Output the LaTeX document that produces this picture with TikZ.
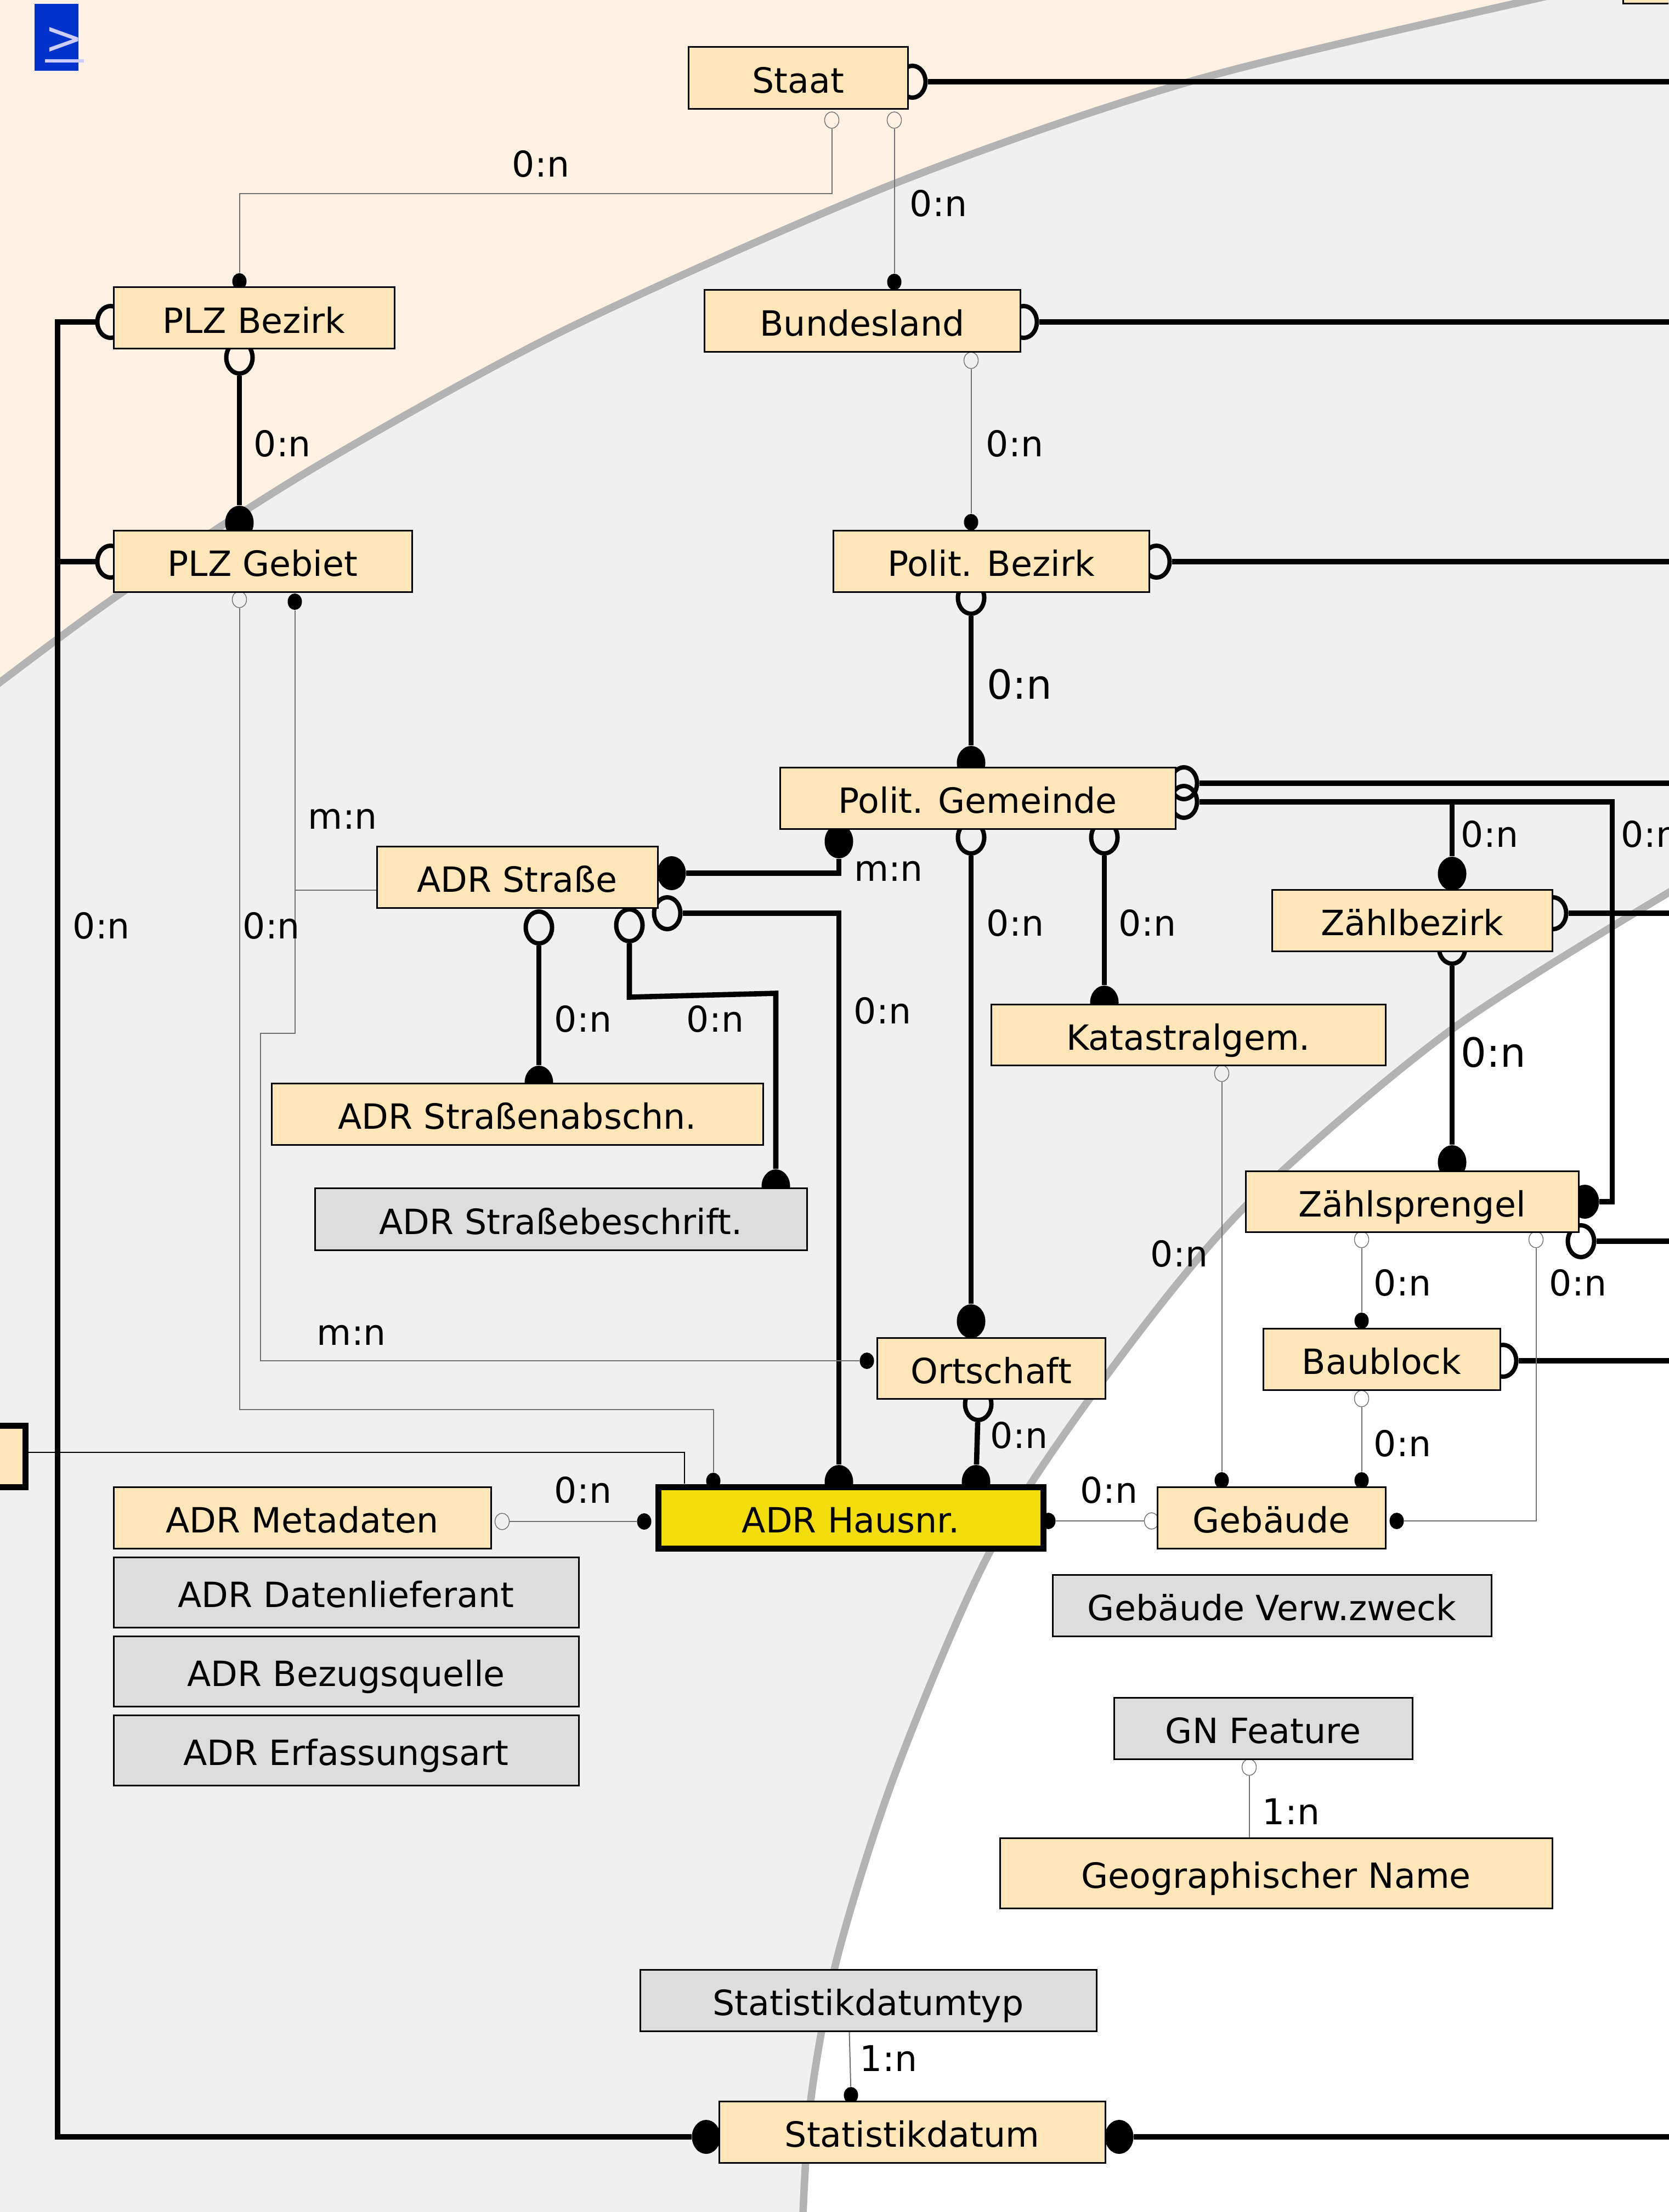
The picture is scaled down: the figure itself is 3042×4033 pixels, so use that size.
\documentclass[tikz,border=0pt]{standalone}
\usepackage{fontspec}
\setmainfont{DejaVu Sans}
\usetikzlibrary{shapes.geometric}
\definecolor{beigebg}{HTML}{FFF2E5}
\definecolor{greybg}{HTML}{F0F0F0}
\definecolor{arcgrey}{HTML}{B3B3B3}
\definecolor{entfill}{HTML}{FFE6B8}
\definecolor{codefill}{HTML}{DDDDDD}
\definecolor{mainfill}{HTML}{F2DD0A}
\definecolor{thingrey}{HTML}{707070}
\definecolor{navblue}{HTML}{0033CC}
\definecolor{navtext}{HTML}{CCCCFF}
\pgfdeclarelayer{bglayer}
\pgfdeclarelayer{connlayer}
\pgfdeclarelayer{marklayer}
\pgfsetlayers{bglayer,connlayer,marklayer,main}
\tikzset{
  entbox/.style={rectangle,draw=black,line width=0.75pt,fill=entfill,inner sep=0pt,outer sep=0pt,font=\fontsize{15.85pt}{18pt}\selectfont,text height=15.6pt,text depth=1.85pt},
  codebox/.style={entbox,fill=codefill},
  mainbox/.style={entbox,fill=mainfill,line width=2.75pt},
  bigopen/.style={ellipse,draw=black,line width=2pt,fill=none,inner sep=0pt,minimum width=12pt,minimum height=14.5pt},
  bigdot/.style={ellipse,fill=black,inner sep=0pt,minimum width=13pt,minimum height=15.5pt},
  smallopen/.style={ellipse,draw=thingrey,line width=0.35pt,fill=none,inner sep=0pt,minimum width=6.5pt,minimum height=7.5pt},
  smalldot/.style={ellipse,fill=black,inner sep=0pt,minimum width=6.5pt,minimum height=7.5pt},
  thickline/.style={draw=black,line width=2.4pt,line join=miter},
  thinline/.style={draw=thingrey,line width=0.5pt},
  card/.style={inner sep=0pt,font=\fontsize{16.2pt}{18pt}\selectfont,text height=14pt,text depth=3pt},
  cardbig/.style={card,font=\fontsize{18.4pt}{20pt}\selectfont},
  arcline/.style={draw=arcgrey,line width=3.4pt}
}
\newcommand\ent[6]{%
  \node[#1,minimum width={(#4-#2)*0.25pt},minimum height={(#5-#3)*0.25pt}] (#6) at ({(#2+#4)/2},{(#3+#5)/2})}
\newcommand\mk[4]{\begin{pgfonlayer}{marklayer}\node[#1] (#2) at (#3+1.5,#4) {};\end{pgfonlayer}}
\begin{document}
\begin{tikzpicture}[x=0.25pt,y=-0.25pt]
\useasboundingbox (0,0) rectangle (3042,4033);
\clip (0,0) rectangle (3042,4033);
% ---------- background regions
\begin{pgfonlayer}{bglayer}
\fill[beigebg] (0,0) rectangle (3042,4033);
\path[fill=greybg] plot[smooth] coordinates {(-30,1270) (0,1244) (230,1075) (574,852) (1033,600) (1630,335) (2172,148) (2790,0) (2950,-32)} -- (3100,-32) -- (3100,4100) -- (-30,4100) -- cycle;
\path[fill=white] plot[smooth] coordinates {(3080,1605) (2648,1876) (2272,2198) (2016,2510) (1805,2829) (1633,3231) (1527,3567) (1478,3830) (1463,4060)} -- (3100,4060) -- cycle;
\draw[arcline] plot[smooth] coordinates {(-30,1270) (0,1244) (230,1075) (574,852) (1033,600) (1630,335) (2172,148) (2790,0) (2950,-32)};
\draw[arcline] plot[smooth] coordinates {(3080,1605) (2648,1876) (2272,2198) (2016,2510) (1805,2829) (1633,3231) (1527,3567) (1478,3830) (1463,4060)};
\end{pgfonlayer}
% ---------- nav button
\node[rectangle,fill=navblue,inner sep=0pt,minimum width=20pt,minimum height=30.5pt] (nav) at (103,68) {};
\node[inner sep=0pt,text=navtext,font=\fontsize{21pt}{22pt}\selectfont] (navsign) at (117,74) {>};
\node[rectangle,fill=navtext,inner sep=0pt,minimum width=17.75pt,minimum height=1.5pt] (navbar) at (117.5,111) {};
% ---------- entities
\ent{entbox}{1255}{86}{1655}{199}{staat} {Staat};
\ent{entbox}{207}{524}{719}{636}{plzb} {PLZ Bezirk};
\ent{entbox}{207}{967}{751}{1079}{plzg} {PLZ Gebiet};
\ent{entbox}{1284}{529}{1860}{642}{bl} {Bundesland};
\ent{entbox}{1519}{967}{2095}{1079}{pbez} {Polit. Bezirk};
\ent{entbox}{1422}{1399}{2143}{1511}{pgem} {Polit. Gemeinde};
\ent{entbox}{687}{1543}{1199}{1655}{str} {ADR Straße};
\ent{entbox}{495}{1975}{1391}{2087}{abs} {ADR Straßenabschn.};
\ent{codebox}{574}{2166}{1471}{2279}{besch} {ADR Straßebeschrift.};
\ent{entbox}{2319}{1622}{2830}{1734}{zbz} {Zählbezirk};
\ent{entbox}{1807}{1831}{2526}{1942}{kat} {Katastralgem.};
\ent{entbox}{2271}{2135}{2878}{2246}{zsp} {Zählsprengel};
\ent{entbox}{2303}{2422}{2735}{2534}{bau} {Baublock};
\ent{entbox}{1599}{2439}{2015}{2550}{ort} {Ortschaft};
\ent{entbox}{2110}{2711}{2526}{2823}{geb} {Gebäude};
\ent{mainbox}{1200}{2711}{1902}{2823}{haus} {ADR Hausnr.};
\ent{entbox}{207}{2711}{895}{2823}{meta} {ADR Metadaten};
\ent{codebox}{207}{2839}{1055}{2967}{dat} {ADR Datenlieferant};
\ent{codebox}{207}{2983}{1055}{3111}{bez} {ADR Bezugsquelle};
\ent{codebox}{207}{3127}{1055}{3255}{erf} {ADR Erfassungsart};
\ent{codebox}{1919}{2871}{2719}{2983}{verw} {Gebäude Verw.zweck};
\ent{codebox}{2031}{3095}{2575}{3207}{gn} {GN Feature};
\ent{entbox}{1823}{3351}{2830}{3479}{geo} {Geographischer Name};
\ent{codebox}{1167}{3591}{1999}{3703}{styp} {Statistikdatumtyp};
\ent{entbox}{1311}{3831}{2015}{3943}{sdat} {Statistikdatum};
\ent{entbox}{2959}{-100}{3100}{7}{corner} {};
\ent{mainbox,fill=entfill}{-40}{2599}{46}{2711}{lbox} {};
% ---------- cardinality labels
\node[card] (l1) at (986,301) {0:n};
\node[card] (l2) at (1711,373) {0:n};
\node[card] (l3) at (515,810) {0:n};
\node[card] (l4) at (1850,810) {0:n};
\node[cardbig] (l5) at (1859,1252) {0:n};
\node[card] (l6) at (185,1689) {0:n};
\node[card] (l7) at (495,1689) {0:n};
\node[card] (l8) at (625,1489) {m:n};
\node[card] (l9) at (1620,1584) {m:n};
\node[card] (l10) at (1851,1684) {0:n};
\node[card] (l11) at (2092,1684) {0:n};
\node[card] (l12) at (2716,1522) {0:n};
\node[card] (l13) at (3008,1522) {0:n};
\node[card] (l14) at (1063,1859) {0:n};
\node[card] (l15) at (1304,1859) {0:n};
\node[card] (l16) at (1609,1844) {0:n};
\node[cardbig] (l17) at (2723,1923) {0:n};
\node[card] (l18) at (2150,2287) {0:n};
\node[card] (l19) at (2557,2340) {0:n};
\node[card] (l20) at (2877,2340) {0:n};
\node[card] (l21) at (641,2430) {m:n};
\node[card] (l22) at (1858,2618) {0:n};
\node[card] (l23) at (2557,2633) {0:n};
\node[card] (l24) at (1063,2718) {0:n};
\node[card] (l25) at (2022,2718) {0:n};
\node[card] (l26) at (2354,3304) {1:n};
\node[card] (l27) at (1620,3754) {1:n};
% ---------- cardinality markers
\mk{bigopen}{mStaatR}{1662}{149}
\mk{bigopen}{mBlR}{1865}{587}
\mk{bigopen}{mPbezR}{2107}{1024}
\mk{bigopen}{mPlzbL}{200}{587}
\mk{bigopen}{mPlzgL}{200}{1024}
\mk{bigopen}{mPlzbB}{435}{652}
\mk{bigdot}{mPlzgT}{435}{953}
\mk{bigopen}{mPbezB}{1769}{1090}
\mk{bigdot}{mGemT}{1769}{1391}
\mk{bigopen}{mGemR1}{2157}{1428}
\mk{bigopen}{mGemR2}{2157}{1462}
\mk{bigopen}{mGemB1}{1769}{1527}
\mk{bigopen}{mGemB2}{2012}{1527}
\mk{bigdot}{mGemS}{1528}{1534}
\mk{bigdot}{mStrR}{1223}{1592}
\mk{bigopen}{mStrH}{1215}{1665}
\mk{bigopen}{mStrB1}{981}{1691}
\mk{bigopen}{mStrB2}{1146}{1687}
\mk{bigdot}{mAbsT}{981}{1974}
\mk{bigdot}{mBesT}{1413}{2163}
\mk{bigdot}{mOrtT}{1769}{2409}
\mk{bigdot}{mKatT}{2012}{1828}
\mk{bigdot}{mZbzT}{2646}{1593}
\mk{bigopen}{mZbzR}{2830}{1665}
\mk{bigopen}{mZbzB}{2646}{1728}
\mk{bigdot}{mZspT}{2646}{2119}
\mk{bigdot}{mZspR}{2888}{2191}
\mk{bigopen}{mZspO}{2881}{2263}
\mk{bigopen}{mBauR}{2739}{2481}
\mk{bigopen}{mOrtB}{1782}{2560}
\mk{bigdot}{mHaus1}{1528}{2702}
\mk{bigdot}{mHaus2}{1778}{2702}
\mk{bigdot}{mSdatL}{1286}{3896}
\mk{bigdot}{mSdatR}{2039}{3896}
\mk{smallopen}{sStaat1}{1515}{219}
\mk{smallopen}{sStaat2}{1629}{219}
\mk{smalldot}{sPlzbT}{435}{513}
\mk{smalldot}{sBlT}{1629}{514}
\mk{smallopen}{sBlB}{1769}{657}
\mk{smalldot}{sPbezT}{1769}{952}
\mk{smallopen}{sPlzg1}{435}{1093}
\mk{smalldot}{sPlzg2}{536}{1097}
\mk{smalldot}{sOrtL}{1579}{2481}
\mk{smallopen}{sKatB}{2226}{1957}
\mk{smalldot}{sGebT1}{2226}{2699}
\mk{smalldot}{sGebT2}{2481}{2699}
\mk{smallopen}{sZsp1}{2481}{2260}
\mk{smallopen}{sZsp2}{2799}{2260}
\mk{smalldot}{sBauT}{2481}{2408}
\mk{smallopen}{sBauB}{2481}{2550}
\mk{smalldot}{sGebR}{2545}{2773}
\mk{smallopen}{sGebL}{2098}{2773}
\mk{smalldot}{sHausR}{1910}{2773}
\mk{smallopen}{sMeta}{914}{2774}
\mk{smalldot}{sHausL}{1173}{2774}
\mk{smalldot}{sHausT}{1299}{2700}
\mk{smallopen}{sGn}{2276}{3222}
\mk{smalldot}{sSdatT}{1550}{3820}
% ---------- free ends and bends
\coordinate (eStaat) at (3100,149);
\coordinate (eBl) at (3100,587);
\coordinate (ePbez) at (3100,1024);
\coordinate (eGem) at (3100,1428);
\coordinate (eZbz) at (3100,1665);
\coordinate (eZsp) at (3100,2263);
\coordinate (eBau) at (3100,2481);
\coordinate (eSdat) at (3100,3896);
\coordinate (bLeftT) at (105,587);
\coordinate (bLeftM) at (105,1024);
\coordinate (bLeftB) at (105,3896);
\coordinate (bGem) at (2939.5,1462);
\coordinate (bGemD) at (2939.5,2191);
\coordinate (bZbz) at (2647.5,1462);
\coordinate (bStr1) at (1529.5,1592);
\coordinate (bStr2) at (1529.5,1665);
\coordinate (bBes1) at (1147.5,1818);
\coordinate (bBes2) at (1414.5,1811);
\coordinate (bStaat1) at (1516.5,353);
\coordinate (bStaat2) at (436.5,353);
\coordinate (bM1) at (537.5,1884);
\coordinate (bM2) at (474.5,1884);
\coordinate (bM3) at (474.5,2481);
\coordinate (bBr) at (537.5,1623);
\coordinate (bStrL) at (687,1623);
\coordinate (bP1) at (436.5,2570);
\coordinate (bP2) at (1300.5,2570);
\coordinate (bL1) at (46,2648);
\coordinate (bL2) at (1248,2648);
\coordinate (bL3) at (1248,2705);
\coordinate (bG1) at (2800.5,2773);
\coordinate (bGeo) at (2277.5,3351);
\coordinate (bTyp) at (1548.5,3703);
\begin{pgfonlayer}{connlayer}
% thick connectors
\draw[thickline] (mStaatR) -- (eStaat);
\draw[thickline] (mBlR) -- (eBl);
\draw[thickline] (mPbezR) -- (ePbez);
\draw[thickline] (mGemR1) -- (eGem);
\draw[thickline] (mZbzR) -- (eZbz);
\draw[thickline] (mZspO) -- (eZsp);
\draw[thickline] (mBauR) -- (eBau);
\draw[thickline] (mSdatR) -- (eSdat);
\draw[thickline] (mPlzbL) -- (bLeftT) -- (bLeftB) -- (mSdatL);
\draw[thickline] (mPlzgL) -- (bLeftM);
\draw[thickline] (mPlzbB) -- (mPlzgT);
\draw[thickline] (mPbezB) -- (mGemT);
\draw[thickline] (mGemB1) -- (mOrtT);
\draw[thickline] (mGemB2) -- (mKatT);
\draw[thickline] (mGemR2) -- (bGem) -- (bGemD) -- (mZspR);
\draw[thickline] (bZbz) -- (mZbzT);
\draw[thickline] (mZbzB) -- (mZspT);
\draw[thickline] (mStrR) -- (bStr1) -- (mGemS);
\draw[thickline] (mStrH) -- (bStr2) -- (mHaus1);
\draw[thickline] (mStrB1) -- (mAbsT);
\draw[thickline] (mStrB2) -- (bBes1) -- (bBes2) -- (mBesT);
\draw[thickline] (mOrtB) -- (mHaus2);
% thin connectors
\draw[thinline] (sStaat1) -- (bStaat1) -- (bStaat2) -- (sPlzbT);
\draw[thinline] (sStaat2) -- (sBlT);
\draw[thinline] (sBlB) -- (sPbezT);
\draw[thinline] (sPlzg1) -- (bP1) -- (bP2) -- (sHausT);
\draw[thinline] (sPlzg2) -- (bM1) -- (bM2) -- (bM3) -- (sOrtL);
\draw[thinline] (bBr) -- (bStrL);
\draw[thinline] (sKatB) -- (sGebT1);
\draw[thinline] (sZsp1) -- (sBauT);
\draw[thinline] (sBauB) -- (sGebT2);
\draw[thinline] (sZsp2) -- (bG1) -- (sGebR);
\draw[thinline] (sHausR) -- (sGebL);
\draw[thinline] (sMeta) -- (sHausL);
\draw[thinline] (sGn) -- (bGeo);
\draw[thinline] (bTyp) -- (sSdatT);
\draw[thinline,draw=black] (bL1) -- (bL2) -- (bL3);
\end{pgfonlayer}
\end{tikzpicture}
\end{document}
